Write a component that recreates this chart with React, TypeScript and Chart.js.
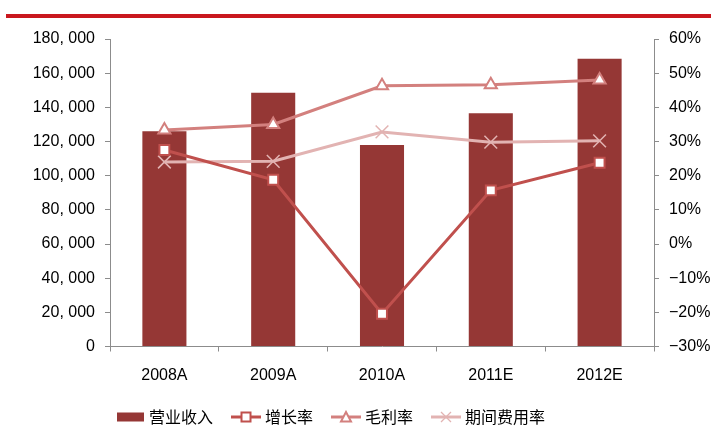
import React, { useEffect, useRef } from "react";
import { Chart, registerables } from "chart.js";

Chart.register(...registerables);

const categories = ["2008A", "2009A", "2010A", "2011E", "2012E"];
const revenue = [126000, 148500, 118000, 136500, 168500];
const growthRate = [27.5, 18.8, -20.4, 15.7, 23.8];
const grossMargin = [33.4, 35.0, 46.3, 46.6, 48.0];
const expenseRate = [24.0, 24.2, 32.8, 29.8, 30.2];
const seriesNames = ["营业收入", "增长率", "毛利率", "期间费用率"];
const leftTicks = { min: 0, max: 180000, step: 20000 };
const rightTicks = { min: -30, max: 60, step: 10 };

const BAR_COLOR = "#953735";
const GROWTH_COLOR = "#C0504D";
const MARGIN_COLOR = "#D3807E";
const EXPENSE_COLOR = "#E2B3B2";
const AXIS_COLOR = "#8C8C8C";
const LEGEND_LEFT = 97;

function makeIcon(kind: string): HTMLCanvasElement {
  const c = document.createElement("canvas");
  if (kind === "bar") {
    c.width = 27;
    c.height = 10;
    const ctx = c.getContext("2d")!;
    ctx.fillStyle = BAR_COLOR;
    ctx.fillRect(0, 0.5, 27, 9);
    return c;
  }
  c.width = 32;
  c.height = 14;
  const ctx = c.getContext("2d")!;
  const color = kind === "square" ? GROWTH_COLOR : kind === "triangle" ? MARGIN_COLOR : EXPENSE_COLOR;
  ctx.strokeStyle = color;
  ctx.lineWidth = 3;
  ctx.beginPath();
  ctx.moveTo(1, 7);
  ctx.lineTo(31, 7);
  ctx.stroke();
  ctx.lineWidth = 2;
  if (kind === "square") {
    ctx.fillStyle = "#fff";
    ctx.fillRect(11.5, 2.5, 9, 9);
    ctx.strokeRect(11.5, 2.5, 9, 9);
  } else if (kind === "triangle") {
    ctx.fillStyle = "#fff";
    ctx.beginPath();
    ctx.moveTo(16, 2);
    ctx.lineTo(21, 11.5);
    ctx.lineTo(11, 11.5);
    ctx.closePath();
    ctx.fill();
    ctx.stroke();
  } else {
    ctx.lineWidth = 1.3;
    ctx.beginPath();
    ctx.moveTo(11, 2);
    ctx.lineTo(21, 12);
    ctx.moveTo(21, 2);
    ctx.lineTo(11, 12);
    ctx.stroke();
  }
  return c;
}

function fmtThousands(v: number): string {
  const s = Math.round(v).toString();
  return s.replace(/\B(?=(\d{3})+(?!\d))/g, ", ");
}

const legendShift = {
  id: "legendShift",
  afterLayout(chart: any) {
    if (chart.legend) {
      chart.legend.left = LEGEND_LEFT;
    }
  },
};

export default function App() {
  const ref = useRef<HTMLCanvasElement | null>(null);

  useEffect(() => {
    document.body.style.margin = "0";
    const canvas = ref.current;
    if (!canvas) return;
    const icons = [makeIcon("bar"), makeIcon("square"), makeIcon("triangle"), makeIcon("cross")];

    const chart = new Chart(canvas, {
      type: "bar",
      data: {
        labels: categories,
        datasets: [
          {
            type: "bar",
            label: seriesNames[0],
            data: revenue,
            backgroundColor: BAR_COLOR,
            yAxisID: "y",
            order: 5,
            categoryPercentage: 1,
            barPercentage: 0.405,
          },
          {
            type: "line",
            label: seriesNames[1],
            data: growthRate,
            borderColor: GROWTH_COLOR,
            borderWidth: 3,
            pointStyle: "rect",
            pointRadius: 7,
            pointBorderWidth: 2,
            pointBackgroundColor: "#fff",
            pointBorderColor: GROWTH_COLOR,
            yAxisID: "y1",
            order: 1,
            tension: 0,
          },
          {
            type: "line",
            label: seriesNames[2],
            data: grossMargin,
            borderColor: MARGIN_COLOR,
            borderWidth: 3,
            pointStyle: "triangle",
            pointRadius: 7,
            pointBorderWidth: 2,
            pointBackgroundColor: "#fff",
            pointBorderColor: MARGIN_COLOR,
            yAxisID: "y1",
            order: 2,
            tension: 0,
          },
          {
            type: "line",
            label: seriesNames[3],
            data: expenseRate,
            borderColor: EXPENSE_COLOR,
            borderWidth: 3,
            pointStyle: "crossRot",
            pointRadius: 9,
            pointBorderWidth: 1.5,
            pointBackgroundColor: EXPENSE_COLOR,
            pointBorderColor: EXPENSE_COLOR,
            yAxisID: "y1",
            order: 3,
            tension: 0,
          },
        ],
      },
      plugins: [legendShift],
      options: {
        animation: false,
        responsive: false,
        maintainAspectRatio: false,
        layout: { padding: { left: 0, top: 39, right: 0, bottom: 6 } },
        plugins: {
          tooltip: { enabled: false },
          legend: {
            position: "bottom",
            align: "start",
            maxHeight: 40,
            labels: {
              usePointStyle: true,
              pointStyleWidth: 22,
              padding: 22,
              color: "#000",
              font: { family: "'Noto Sans CJK SC', sans-serif", size: 16 },
              generateLabels: (ch: any) =>
                ch.data.datasets.map((ds: any, i: number) => ({
                  text: ds.label,
                  fillStyle: "#fff",
                  strokeStyle: "#fff",
                  lineWidth: 0,
                  pointStyle: icons[i],
                  hidden: false,
                  datasetIndex: i,
                  fontColor: "#000",
                })),
            },
          },
        },
        scales: {
          x: {
            offset: true,
            grid: {
              offset: true,
              drawOnChartArea: false,
              drawTicks: true,
              tickLength: 5,
              color: AXIS_COLOR,
            },
            border: { display: true, color: AXIS_COLOR, width: 1 },
            ticks: {
              color: "#000",
              padding: 14,
              maxRotation: 0,
              font: { family: "'Liberation Sans', Arial, sans-serif", size: 16 },
            },
            afterFit: (s: any) => {
              s.height = 40.5;
            },
          },
          y: {
            position: "left",
            min: leftTicks.min,
            max: leftTicks.max,
            grid: { drawOnChartArea: false, tickLength: 5, color: AXIS_COLOR },
            border: { display: true, color: AXIS_COLOR, width: 1 },
            ticks: {
              stepSize: leftTicks.step,
              color: "#000",
              padding: 10,
              font: { family: "'Liberation Sans', Arial, sans-serif", size: 16 },
              callback: (v: any) => fmtThousands(Number(v)),
            },
            afterFit: (s: any) => {
              s.width = 110;
            },
          },
          y1: {
            position: "right",
            min: rightTicks.min,
            max: rightTicks.max,
            grid: { drawOnChartArea: false, tickLength: 5, color: AXIS_COLOR },
            border: { display: true, color: AXIS_COLOR, width: 1 },
            ticks: {
              stepSize: rightTicks.step,
              color: "#000",
              padding: 10,
              font: { family: "'Liberation Sans', Arial, sans-serif", size: 16 },
              callback: (v: any) => {
                const n = Number(v);
                return (n < 0 ? "\u2212" + Math.abs(n) : String(n)) + "%";
              },
            },
            afterFit: (s: any) => {
              s.width = 57;
            },
          },
        },
      },
    });
    return () => chart.destroy();
  }, []);

  return (
    <div style={{ position: "relative", width: 711, height: 433, background: "#fff" }}>
      <div
        style={{
          position: "absolute",
          left: 6,
          right: 0,
          top: 14,
          height: 3.5,
          background: "#C9171E",
        }}
      />
      <canvas ref={ref} width={711} height={433} style={{ display: "block" }} />
    </div>
  );
}
